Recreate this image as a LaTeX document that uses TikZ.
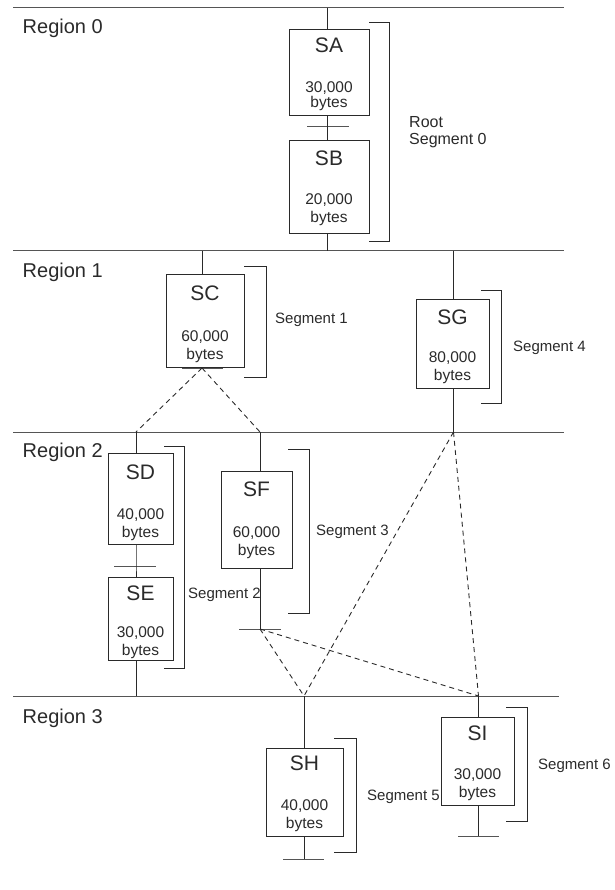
\documentclass[tikz,border=0pt]{standalone}
\usepackage{fontspec}
\setmainfont{Liberation Sans}
\definecolor{ink}{HTML}{2A2A2A}
\definecolor{rule}{HTML}{555555}
\tikzset{
  segbox/.style={draw=ink, line width=0.9pt, inner sep=0pt, anchor=north west},
  regline/.style={draw=rule, line width=1pt},
  conn/.style={draw=ink, line width=0.9pt},
  bar/.style={draw=rule, line width=1pt},
  brk/.style={draw=ink, line width=0.9pt},
  dashconn/.style={draw=ink, line width=0.9pt, dash pattern=on 5pt off 4pt},
  nm/.style={font=\fontsize{21}{24}\selectfont, text=ink, inner sep=0pt},
  sz/.style={font=\fontsize{15.5}{18}\selectfont, text=ink, inner sep=0pt},
  seglab/.style={font=\fontsize{15}{18}\selectfont, text=ink, inner sep=0pt, anchor=west},
  reglab/.style={font=\fontsize{20}{24}\selectfont, text=ink, inner sep=0pt, anchor=west}
}
\begin{document}
\begin{tikzpicture}[x=1pt,y=-1pt]
\useasboundingbox (0,0) rectangle (614,890);

% region boundaries
\draw[regline] (13,8) -- (564,8);
\draw[regline] (13,251) -- (564,251);
\draw[regline] (13,432) -- (564,432);
\draw[regline] (13,696) -- (559,696);

\node[reglab] (r0) at (22.5,28) {Region 0};
\node[reglab] (r1) at (22.5,272.5) {Region 1};
\node[reglab] (r2) at (22.5,452.5) {Region 2};
\node[reglab] (r3) at (22.5,718.5) {Region 3};

% attachment points on the region lines
\coordinate (tA) at (327.5,8);
\coordinate (bB) at (327.5,251);
\coordinate (tC) at (202,251);
\coordinate (tG) at (453.5,251);
\coordinate (bG) at (453.5,432);
\coordinate (tD) at (136,432);
\coordinate (tF) at (260,432);
\coordinate (bE) at (136,696);
\coordinate (tH) at (304,696);
\coordinate (tI) at (478.5,696);

% segment boxes
\node[segbox, minimum width=80, minimum height=86] (SA) at (289,29) {};
\node[segbox, minimum width=80, minimum height=93] (SB) at (289,140) {};
\node[segbox, minimum width=78, minimum height=93] (SC) at (166,274) {};
\node[segbox, minimum width=73, minimum height=89] (SG) at (416,299) {};
\node[segbox, minimum width=65, minimum height=91] (SD) at (108,453) {};
\node[segbox, minimum width=65, minimum height=83] (SE) at (108,577) {};
\node[segbox, minimum width=71, minimum height=97] (SF) at (221,471) {};
\node[segbox, minimum width=77, minimum height=88] (SH) at (266,748) {};
\node[segbox, minimum width=73, minimum height=88] (SI) at (441,717) {};

% box texts
\node[nm] (SAn) at (329,45) {SA};
\node[sz] (SAs) at (329,88) {30,000};
\node[sz] (SAb) at (329,103) {bytes};
\node[nm] (SBn) at (329,158) {SB};
\node[sz] (SBs) at (329,200) {20,000};
\node[sz] (SBb) at (329,218) {bytes};
\node[nm] (SCn) at (205,293) {SC};
\node[sz] (SCs) at (205,337) {60,000};
\node[sz] (SCb) at (205,355) {bytes};
\node[nm] (SGn) at (452.5,317) {SG};
\node[sz] (SGs) at (452.5,358) {80,000};
\node[sz] (SGb) at (452.5,376) {bytes};
\node[nm] (SDn) at (140.5,472) {SD};
\node[sz] (SDs) at (140.5,515) {40,000};
\node[sz] (SDb) at (140.5,533) {bytes};
\node[nm] (SEn) at (140.5,593) {SE};
\node[sz] (SEs) at (140.5,633) {30,000};
\node[sz] (SEb) at (140.5,651) {bytes};
\node[nm] (SFn) at (256.5,489) {SF};
\node[sz] (SFs) at (256.5,533) {60,000};
\node[sz] (SFb) at (256.5,551) {bytes};
\node[nm] (SHn) at (304.5,763) {SH};
\node[sz] (SHs) at (304.5,806) {40,000};
\node[sz] (SHb) at (304.5,824) {bytes};
\node[nm] (SIn) at (477.5,733) {SI};
\node[sz] (SIs) at (477.5,775) {30,000};
\node[sz] (SIb) at (477.5,793) {bytes};

% crossbars ending a chain
\coordinate (xAB) at (327.5,127);
\coordinate (xC) at (202,368);
\coordinate (xDE) at (136,566);
\coordinate (xF) at (260,629);
\coordinate (xH) at (304,859);
\coordinate (xI) at (478.5,836);
\draw[bar] (307,127) -- (349,127);
\draw[bar] (182,368) -- (223,368);
\draw[bar] (114,566) -- (156,566);
\draw[bar] (239,629) -- (281,629);
\draw[bar] (283,859) -- (324,859);
\draw[bar] (458,836) -- (499,836);

% solid connectors
\draw[conn] (tA) -- (tA |- SA.north);
\draw[conn] (tA |- SA.south) -- (xAB) -- (tA |- SB.north);
\draw[conn] (tA |- SB.south) -- (bB);
\draw[conn] (tC) -- (tC |- SC.north);
\draw[conn] (tG) -- (tG |- SG.north);
\draw[conn] (tG |- SG.south) -- (bG);
\draw[conn] (tD) -- (tD |- SD.north);
\draw[conn] (tD |- SD.south) -- (xDE) -- (tD |- SE.north);
\draw[conn] (tD |- SE.south) -- (bE);
\draw[conn] (tF) -- (tF |- SF.north);
\draw[conn] (tF |- SF.south) -- (xF);
\draw[conn] (tH) -- (tH |- SH.north);
\draw[conn] (tH |- SH.south) -- (xH);
\draw[conn] (tI) -- (tI |- SI.north);
\draw[conn] (tI |- SI.south) -- (xI);

% dashed links between regions
\draw[dashconn] (xC) -- (tD);
\draw[dashconn] (xC) -- (tF);
\draw[dashconn] (bG) -- (tH);
\draw[dashconn] (bG) -- (tI);
\draw[dashconn] (xF) -- (tH);
\draw[dashconn] (xF) -- (tI);

% segment brackets
\draw[brk] (369,22) -- (389,22) -- (389,241) -- (369,241);
\draw[brk] (244,266) -- (266,266) -- (266,377) -- (244,377);
\draw[brk] (481,290) -- (501,290) -- (501,403) -- (481,403);
\draw[brk] (164,446) -- (184,446) -- (184,668) -- (164,668);
\draw[brk] (288,449) -- (309,449) -- (309,613) -- (288,613);
\draw[brk] (334,738) -- (356,738) -- (356,852) -- (334,852);
\draw[brk] (506,707) -- (527,707) -- (527,821) -- (506,821);

% segment labels
\node[seglab, font=\fontsize{16}{18}\selectfont] (root) at (409,122) {Root};
\node[seglab, font=\fontsize{16}{18}\selectfont] (seg0) at (409,141) {Segment 0};
\node[seglab] (seg1) at (275,320) {Segment 1};
\node[seglab] (seg4) at (513,348) {Segment 4};
\node[seglab] (seg2) at (188,595) {Segment 2};
\node[seglab] (seg3) at (316,532) {Segment 3};
\node[seglab] (seg5) at (367,797) {Segment 5};
\node[seglab] (seg6) at (538,766) {Segment 6};
\end{tikzpicture}
\end{document}
